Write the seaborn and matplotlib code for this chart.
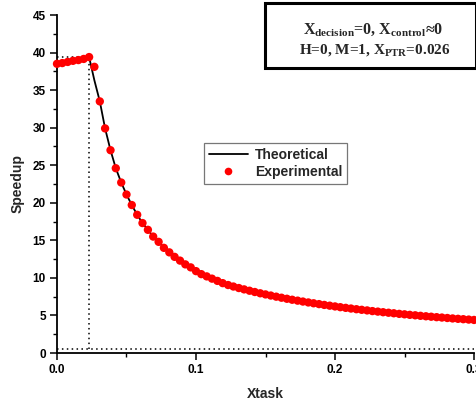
import matplotlib
matplotlib.use("Agg")
import matplotlib.pyplot as plt
from matplotlib.lines import Line2D
from matplotlib.patches import Rectangle
from matplotlib.ticker import MultipleLocator, FormatStrFormatter
import seaborn as sns
import pandas as pd

# ---- data ----
xtask = [0.0000, 0.0038, 0.0077, 0.0115, 0.0154, 0.0192, 0.0231, 0.0269, 0.0308, 0.0346,
         0.0385, 0.0423, 0.0462, 0.0500, 0.0538, 0.0577, 0.0615, 0.0654, 0.0692, 0.0731,
         0.0769, 0.0808, 0.0846, 0.0885, 0.0923, 0.0962, 0.1000, 0.1038, 0.1077, 0.1115,
         0.1154, 0.1192, 0.1231, 0.1269, 0.1308, 0.1346, 0.1385, 0.1423, 0.1462, 0.1500,
         0.1538, 0.1577, 0.1615, 0.1654, 0.1692, 0.1731, 0.1769, 0.1808, 0.1846, 0.1885,
         0.1923, 0.1962, 0.2000, 0.2038, 0.2077, 0.2115, 0.2154, 0.2192, 0.2231, 0.2269,
         0.2308, 0.2346, 0.2385, 0.2423, 0.2462, 0.2500, 0.2538, 0.2577, 0.2615, 0.2654,
         0.2692, 0.2731, 0.2769, 0.2808, 0.2846, 0.2885, 0.2923, 0.2962, 0.3000]
experimental = [38.5, 38.6, 38.75, 38.9, 39.0, 39.15, 39.4, 38.1, 33.5, 29.9,
                27.0, 24.6, 22.7, 21.1, 19.7, 18.4, 17.3, 16.4, 15.5, 14.8,
                14.0, 13.4, 12.8, 12.3, 11.8, 11.4, 10.9, 10.5, 10.2, 9.9,
                9.6, 9.3, 9.05, 8.85, 8.65, 8.47, 8.29, 8.12, 7.95, 7.80,
                7.65, 7.50, 7.36, 7.22, 7.09, 6.97, 6.85, 6.73, 6.62, 6.51,
                6.40, 6.30, 6.20, 6.10, 6.01, 5.92, 5.83, 5.75, 5.67, 5.58,
                5.51, 5.43, 5.36, 5.29, 5.21, 5.15, 5.08, 5.02, 4.95, 4.89,
                4.83, 4.77, 4.72, 4.66, 4.60, 4.55, 4.50, 4.45, 4.40]
theoretical = list(experimental)
theoretical[7] = 36.3

peak_x = 0.0231
peak_y = 39.4
floor_y = 0.5

series_labels = ["Theoretical", "Experimental"]
annot_line1 = "X$_{\\mathrm{decision}}$=0, X$_{\\mathrm{control}}$\u22480"
annot_line2 = "H=0, M=1, X$_{\\mathrm{PTR}}$=0.026"

df = pd.DataFrame({"Xtask": xtask, "exp": experimental, "theo": theoretical})

# ---- style ----
sns.set_style("ticks")
plt.rcParams["font.family"] = ["Liberation Sans", "DejaVu Sans"]
plt.rcParams["font.weight"] = "bold"
plt.rcParams["mathtext.fontset"] = "custom"
plt.rcParams["mathtext.rm"] = "Liberation Serif:bold"
plt.rcParams["mathtext.it"] = "Liberation Serif:bold:italic"
plt.rcParams["mathtext.bf"] = "Liberation Serif:bold"

fig = plt.figure(figsize=(4.77, 4.03), dpi=100)
ax = fig.add_axes([57 / 477, 50 / 403, 417 / 477, 338 / 403])

# dotted guide lines
dot = (0, (1, 2.2))
ax.plot([0, 0.3], [floor_y, floor_y], color="black", lw=1.1, ls=dot, zorder=1)
ax.plot([peak_x, peak_x], [floor_y, peak_y], color="black", lw=1.1, ls=dot, zorder=1)
ax.plot([0, peak_x], [peak_y, peak_y], color="black", lw=1.1, ls=dot, zorder=1)

sns.lineplot(data=df, x="Xtask", y="theo", ax=ax, color="black", lw=1.3, zorder=2)
sns.scatterplot(data=df, x="Xtask", y="exp", ax=ax, color="#ff0000", s=36,
                edgecolor="none", linewidth=0, zorder=3, clip_on=False)

ax.set_xlim(0, 0.3)
ax.set_ylim(0, 45)
ax.xaxis.set_major_locator(MultipleLocator(0.1))
ax.xaxis.set_minor_locator(MultipleLocator(0.05))
ax.yaxis.set_major_locator(MultipleLocator(5))
ax.yaxis.set_minor_locator(MultipleLocator(2.5))
ax.xaxis.set_major_formatter(FormatStrFormatter("%.1f"))

for s in ["top", "right"]:
    ax.spines[s].set_visible(False)
for s in ["left", "bottom"]:
    ax.spines[s].set_linewidth(1.3)
    ax.spines[s].set_color("black")

ax.tick_params(which="major", direction="out", length=5, width=1.1, labelsize=8.5, pad=3, colors="black")
ax.tick_params(which="minor", direction="out", length=3, width=1.0, colors="black")
for lab in ax.get_xticklabels() + ax.get_yticklabels():
    lab.set_fontweight("bold")

ax.set_xlabel("Xtask", fontsize=10, fontweight="bold", labelpad=8)
ax.set_ylabel("Speedup", fontsize=10, fontweight="bold", labelpad=6)

handles = [Line2D([], [], color="black", lw=1.3),
           Line2D([], [], color="#ff0000", marker="o", ls="none", markersize=5.5, markeredgewidth=0)]
leg = ax.legend(handles, series_labels, loc="upper left", bbox_to_anchor=(0.3525, 0.621),
                borderaxespad=0, frameon=True, fancybox=False, edgecolor="#555555",
                prop={"weight": "bold", "size": 10}, handlelength=2.8, handletextpad=0.5,
                borderpad=0.35, labelspacing=0.2)
leg.get_frame().set_linewidth(0.9)

# annotation box (figure coords)
rect = Rectangle((265 / 477, (403 - 68) / 403), (476 - 265) / 477, 65 / 403,
                 transform=fig.transFigure, fill=False, edgecolor="black", linewidth=2.2)
fig.patches.append(rect)
serif = ["Liberation Serif", "DejaVu Serif"]
fig.text(373 / 477, (403 - 30) / 403, annot_line1, ha="center", va="center",
         fontsize=11.5, family=serif, weight="bold")
fig.text(375 / 477, (403 - 50) / 403, annot_line2, ha="center", va="center",
         fontsize=11, family=serif, weight="bold")

fig.savefig("out.png", dpi=100, facecolor="white")
